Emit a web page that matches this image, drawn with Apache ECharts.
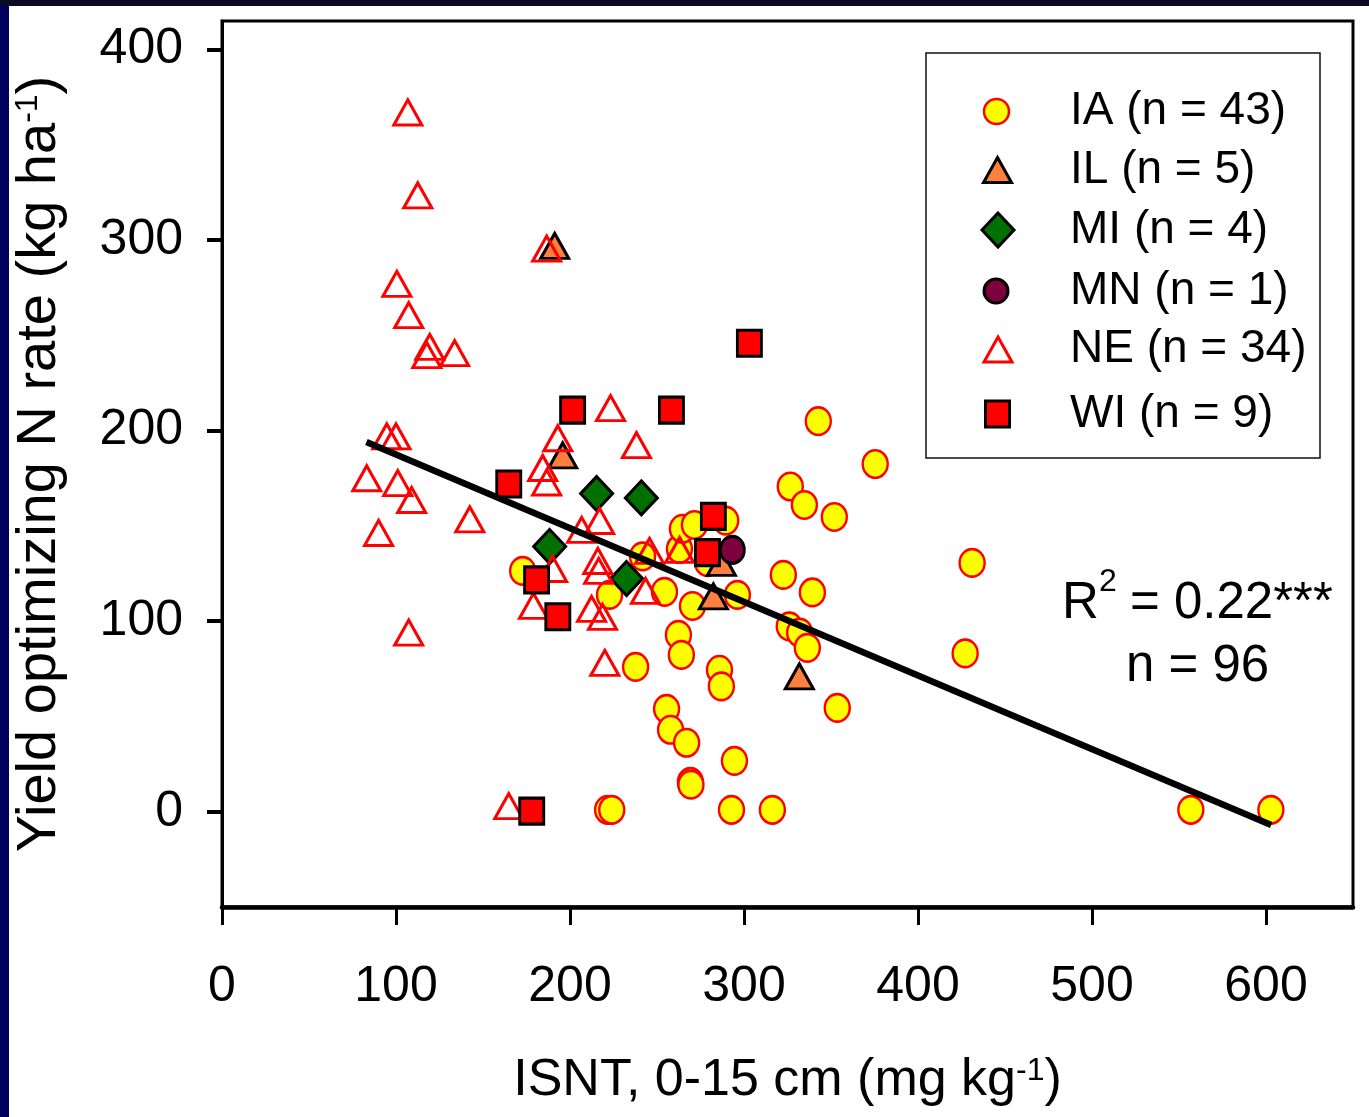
<!DOCTYPE html>
<html><head><meta charset="utf-8">
<script src="https://cdn.jsdelivr.net/npm/echarts@6/dist/echarts.min.js"></script>
<style>html,body{margin:0;padding:0;background:#fff;}#c{width:1369px;height:1117px;}</style>
</head><body><div id="c"></div>
<script>
// ---------- data ----------
const seriesNames = ['IA (n = 43)', 'IL (n = 5)', 'MI (n = 4)', 'MN (n = 1)', 'NE (n = 34)', 'WI (n = 9)'];
const iaData = [[172.8,126.4],[222.7,113.8],[221.6,1],[224,1],[237.7,76],[241.7,134],[254.3,115.4],[255.5,54],[257.8,43],[262.3,92.8],[264,82.3],[262.9,137.9],[264.6,148.5],[271.5,150.5],[289.5,152.8],[270.4,108],[267,36.2],[269.2,15.7],[269.5,14.2],[285.9,74.5],[287,65.8],[294.5,26.7],[292.8,1],[296.2,113.8],[316.3,1],[322.6,124.3],[326,97.3],[332,94],[336.4,86],[339.3,115.1],[326.6,170.7],[334.7,161],[351.9,154.7],[342.7,205],[375.4,182.5],[353.6,54.5],[431.1,130.6],[427.1,83.1],[556.8,1],[602.8,1],[279,131]];
const ilData = [[191.2,297],[195.8,187],[287,130.6],[282.4,113],[331.8,71]];
const miData = [[215.3,167],[241,164.7],[188.3,139.2],[232.5,122.4]];
const mnData = [[293.3,137.4]];
const neData = [[106.8,367],[112.5,323.5],[100.5,277],[107.3,260.6],[119.4,244],[117.7,239.6],[133.7,240.7],[186.6,295.5],[223.3,211.8],[94.7,197],[100,197],[193,196],[238.2,192.4],[83.2,175],[101,172.5],[109,163.6],[90,146.3],[142.4,153.4],[107.3,94],[184.3,180.4],[186.6,172.8],[217,152.6],[206.7,147.9],[190,127.4],[179,108],[216,131.6],[216.5,126.4],[212.4,106.5],[218.7,102.3],[220,78.1],[245.7,136.9],[263,137.4],[243.4,115.9],[164.8,2.9]];
const wiData = [[201.5,210.8],[258.3,210.8],[303.1,245.9],[164.8,172],[282.4,155],[279,136],[180.8,121.7],[193,102.3],[178,0.3]];
const fitLine = [[83,194],[603,-7]];
const xTicks = [0,100,200,300,400,500,600];
const yTicks = [0,100,200,300,400];
const statR = 'R', statSup = '2', statRest = '= 0.22***';
const statLine2 = 'n = 96';

// ---------- styles ----------
const FONT = '"Liberation Sans", Arial, sans-serif';
const styles = [
  {symbol:'circle',   size:[25,27.5], fill:'#ffff00', stroke:'#ff0000', bw:2.5},
  {symbol:'triangle', size:[28,25],   fill:'#ff7f3f', stroke:'#000000', bw:3},
  {symbol:'diamond',  size:[32,34],   fill:'#007000', stroke:'#000000', bw:3},
  {symbol:'circle',   size:[24,27],   fill:'#7f003f', stroke:'#000000', bw:3},
  {symbol:'triangle', size:[28,25],   fill:'rgba(0,0,0,0)', stroke:'#ff0000', bw:3},
  {symbol:'rect',     size:[24,26],   fill:'#ff0000', stroke:'#000000', bw:3}
];
const allData = [iaData, ilData, miData, mnData, neData, wiData];

const series = allData.map((d, i) => ({
  name: seriesNames[i], type: 'scatter', data: d,
  symbol: styles[i].symbol, symbolSize: styles[i].size,
  itemStyle: {color: styles[i].fill, borderColor: styles[i].stroke, borderWidth: styles[i].bw, opacity: 1},
  emphasis: {disabled: true}, silent: true, z: 2 + i * 0.1
}));
series.push({
  type: 'line', data: fitLine, symbol: 'none', silent: true, z: 5,
  lineStyle: {color: '#000', width: 6.5}, emphasis: {disabled: true}
});

// legend: one legend per entry, icon centres
const legendCenters = [[996.5,103.5],[997.5,161],[998,225.5],[996,283],[998,340.5],[997.5,405.5]];
const legendTextX = 1070;
const legends = seriesNames.map((n, i) => {
  const [cx, cy] = legendCenters[i];
  const [w, h] = styles[i].size;
  const left = cx - w / 2 - styles[i].bw / 2;
  const top = cy - h / 2 - styles[i].bw / 2;
  return {
    data: [{name: n, icon: styles[i].symbol}],
    left: left, top: top, padding: 0, itemGap: 0,
    itemWidth: w, itemHeight: h, selectedMode: false,
    itemStyle: {borderWidth: styles[i].bw, borderColor: styles[i].stroke},
    textStyle: {fontSize: 46, fontFamily: FONT, color: '#000', lineHeight: h,
      padding: [0, 0, 0, legendTextX - (cx + w / 2 + 5)]}
  };
});

const supRich = (size, pad) => ({
  a: {fontSize: size, fontFamily: FONT, color: '#000', lineHeight: size, padding: [pad, 0, 0, 0], verticalAlign: 'bottom'},
  s: {fontSize: 32, fontFamily: FONT, color: '#000', lineHeight: 32, verticalAlign: 'top'}
});

const option = {
  animation: false,
  backgroundColor: '#ffffff',
  grid: {left: 222, top: 21, right: 16, bottom: 210, show: true, borderColor: '#000', borderWidth: 3,
    backgroundColor: 'transparent', containLabel: false, outerBoundsMode: 'none'},
  xAxis: {
    type: 'value', min: 0, max: 650, interval: 100,
    name: '{a|ISNT, 0-15 cm (mg kg}{s|-1}{a|)}', nameLocation: 'middle', nameGap: 148,
    nameTextStyle: {rich: supRich(52, 33)},
    axisLine: {show: true, onZero: false, lineStyle: {color: '#000', width: 4.5}},
    axisTick: {show: true, inside: false, length: 18, customValues: xTicks, lineStyle: {color: '#000', width: 3}},
    axisLabel: {show: true, customValues: xTicks, margin: 55, fontSize: 50, fontFamily: FONT, color: '#000'},
    splitLine: {show: false}
  },
  yAxis: {
    type: 'value', min: -50, max: 415,
    name: '{a|Yield optimizing N rate (kg ha}{s|-1}{a|)}', nameLocation: 'middle', nameGap: 154, nameRotate: 90,
    nameTextStyle: {rich: supRich(56, 16)},
    axisLine: {show: true, onZero: false, lineStyle: {color: '#000', width: 3}},
    axisTick: {show: true, inside: false, length: 15, customValues: yTicks, lineStyle: {color: '#000', width: 4}},
    axisLabel: {show: true, customValues: yTicks, margin: 39, fontSize: 50, fontFamily: FONT, color: '#000'},
    splitLine: {show: false}
  },
  legend: legends,
  graphic: [
    {type: 'rect', left: 0, top: 0, z: 100, shape: {width: 9, height: 1117}, style: {fill: '#00005e'}},
    {type: 'rect', left: 0, top: 0, z: 100, shape: {width: 1369, height: 6}, style: {fill: '#0a0a24'}},
    {type: 'rect', z: 50, shape: {x: 926, y: 53, width: 394, height: 405}, style: {fill: 'none', stroke: '#111', lineWidth: 1.5}},
    {type: 'text', z: 50, x: 1062, y: 604, style: {text: statR, fontSize: 51, fontFamily: FONT, fill: '#000', verticalAlign: 'middle'}},
    {type: 'text', z: 50, x: 1099, y: 582, style: {text: statSup, fontSize: 32, fontFamily: FONT, fill: '#000', verticalAlign: 'middle'}},
    {type: 'text', z: 50, x: 1130, y: 604, style: {text: statRest, fontSize: 51, fontFamily: FONT, fill: '#000', verticalAlign: 'middle'}},
    {type: 'text', z: 50, x: 1126, y: 667, style: {text: statLine2, fontSize: 51, fontFamily: FONT, fill: '#000', verticalAlign: 'middle'}}
  ],
  series: series
};
const chart = echarts.init(document.getElementById('c'), null, {renderer: 'canvas'});
chart.setOption(option);
</script></body></html>
